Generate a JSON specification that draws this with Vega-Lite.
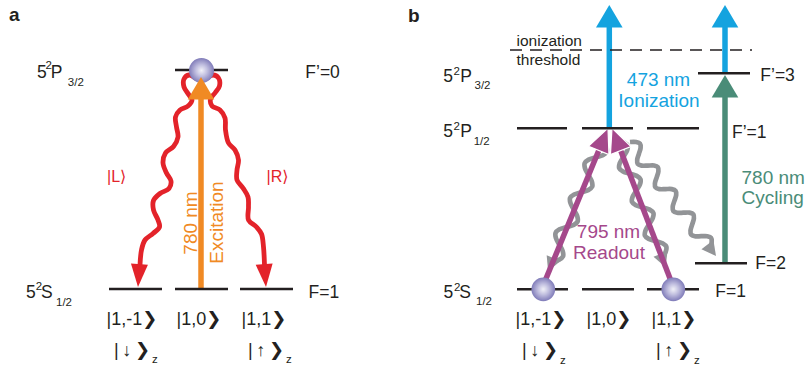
{
  "$schema": "https://vega.github.io/schema/vega-lite/v6.json",
  "width": 807,
  "height": 372,
  "autosize": {"type": "fit", "contains": "padding"},
  "padding": 0,
  "background": "white",
  "config": {
    "view": {"stroke": null},
    "text": {"font": "Liberation Sans, DejaVu Sans, sans-serif"}
  },
  "datasets": {
    "levels": [
      {"x": 175, "x2": 228, "y": 70},
      {"x": 109, "x2": 162, "y": 289},
      {"x": 175, "x2": 228, "y": 289},
      {"x": 240, "x2": 293, "y": 289},
      {"x": 517, "x2": 567, "y": 128.3},
      {"x": 582, "x2": 633, "y": 128.3},
      {"x": 647, "x2": 699, "y": 128.3},
      {"x": 698, "x2": 750, "y": 73.3},
      {"x": 517, "x2": 568, "y": 289.3},
      {"x": 582, "x2": 634, "y": 289.3},
      {"x": 647, "x2": 699, "y": 289.3},
      {"x": 695, "x2": 747, "y": 263.3}
    ],
    "threshold": [{"x": 510, "x2": 752, "y": 50}],
    "shafts": [
      {"beam": "excitation", "x": 201, "y": 289, "x2": 201, "y2": 97},
      {"beam": "ionization", "x": 609.3, "y": 128, "x2": 609.3, "y2": 26},
      {"beam": "ionization", "x": 725, "y": 73.3, "x2": 725, "y2": 26},
      {"beam": "cycling", "x": 725, "y": 263, "x2": 725, "y2": 96},
      {"beam": "readout", "x": 545, "y": 281, "x2": 600.4, "y2": 146.5},
      {"beam": "readout", "x": 671, "y": 281, "x2": 619.2, "y2": 146.7}
    ],
    "big_heads": [
      {"beam": "excitation", "x": 201, "y": 77, "heading": 0},
      {"beam": "ionization", "x": 609.3, "y": 5, "heading": 0},
      {"beam": "ionization", "x": 725, "y": 5, "heading": 0},
      {"beam": "cycling", "x": 725, "y": 75, "heading": 0}
    ],
    "readout_heads": [
      {"x": 608, "y": 128, "heading": 22.4},
      {"x": 612, "y": 128, "heading": 338.9}
    ],
    "emission_waves": [
      {"id": "L", "i": 0, "x": 197, "y": 79},
      {"id": "L", "i": 1, "x": 189, "y": 75},
      {"id": "L", "i": 2, "x": 184, "y": 79},
      {"id": "L", "i": 3, "x": 184, "y": 87},
      {"id": "L", "i": 4, "x": 189, "y": 95},
      {"id": "L", "i": 5, "x": 192, "y": 100},
      {"id": "L", "i": 6, "x": 188, "y": 106},
      {"id": "L", "i": 7, "x": 180, "y": 110},
      {"id": "L", "i": 8, "x": 175.5, "y": 117},
      {"id": "L", "i": 9, "x": 176.5, "y": 127},
      {"id": "L", "i": 10, "x": 178, "y": 137},
      {"id": "L", "i": 11, "x": 173.5, "y": 146.5},
      {"id": "L", "i": 12, "x": 165.5, "y": 153},
      {"id": "L", "i": 13, "x": 163, "y": 163},
      {"id": "L", "i": 14, "x": 166.5, "y": 173},
      {"id": "L", "i": 15, "x": 171, "y": 181},
      {"id": "L", "i": 16, "x": 169, "y": 188.5},
      {"id": "L", "i": 17, "x": 160, "y": 193.5},
      {"id": "L", "i": 18, "x": 153.5, "y": 200.5},
      {"id": "L", "i": 19, "x": 153.5, "y": 210},
      {"id": "L", "i": 20, "x": 158, "y": 220},
      {"id": "L", "i": 21, "x": 159.5, "y": 227},
      {"id": "L", "i": 22, "x": 153, "y": 233.5},
      {"id": "L", "i": 23, "x": 145, "y": 240},
      {"id": "L", "i": 24, "x": 141.5, "y": 250},
      {"id": "L", "i": 25, "x": 140, "y": 265},
      {"id": "R", "i": 0, "x": 206, "y": 79},
      {"id": "R", "i": 1, "x": 213, "y": 75},
      {"id": "R", "i": 2, "x": 218.5, "y": 78},
      {"id": "R", "i": 3, "x": 219.5, "y": 86},
      {"id": "R", "i": 4, "x": 215, "y": 93},
      {"id": "R", "i": 5, "x": 210.5, "y": 99},
      {"id": "R", "i": 6, "x": 212, "y": 106},
      {"id": "R", "i": 7, "x": 220, "y": 110},
      {"id": "R", "i": 8, "x": 225, "y": 118},
      {"id": "R", "i": 9, "x": 225.5, "y": 130},
      {"id": "R", "i": 10, "x": 228.5, "y": 143},
      {"id": "R", "i": 11, "x": 235, "y": 150},
      {"id": "R", "i": 12, "x": 238.5, "y": 160},
      {"id": "R", "i": 13, "x": 237, "y": 170},
      {"id": "R", "i": 14, "x": 237, "y": 180},
      {"id": "R", "i": 15, "x": 243, "y": 188},
      {"id": "R", "i": 16, "x": 248, "y": 197},
      {"id": "R", "i": 17, "x": 248.5, "y": 207},
      {"id": "R", "i": 18, "x": 248.5, "y": 220},
      {"id": "R", "i": 19, "x": 256.5, "y": 227},
      {"id": "R", "i": 20, "x": 261.5, "y": 234},
      {"id": "R", "i": 21, "x": 263.5, "y": 247},
      {"id": "R", "i": 22, "x": 264.5, "y": 265}
    ],
    "emission_heads": [
      {"x": 138, "y": 287, "heading": 183.6},
      {"x": 266, "y": 287, "heading": 175.4}
    ],
    "decay_waves": [
      {"id": "G1", "i": 0, "x": 603, "y": 140},
      {"id": "G1", "i": 1, "x": 606.4, "y": 146.5},
      {"id": "G1", "i": 2, "x": 606.7, "y": 151.8},
      {"id": "G1", "i": 3, "x": 602.8, "y": 155.3},
      {"id": "G1", "i": 4, "x": 595.7, "y": 157.4},
      {"id": "G1", "i": 5, "x": 588.7, "y": 159.6},
      {"id": "G1", "i": 6, "x": 584.7, "y": 163.1},
      {"id": "G1", "i": 7, "x": 585, "y": 168.3},
      {"id": "G1", "i": 8, "x": 588.4, "y": 174.9},
      {"id": "G1", "i": 9, "x": 591.8, "y": 181.4},
      {"id": "G1", "i": 10, "x": 592.2, "y": 186.7},
      {"id": "G1", "i": 11, "x": 588.2, "y": 190.1},
      {"id": "G1", "i": 12, "x": 581.2, "y": 192.3},
      {"id": "G1", "i": 13, "x": 574.1, "y": 194.5},
      {"id": "G1", "i": 14, "x": 570.1, "y": 197.9},
      {"id": "G1", "i": 15, "x": 570.5, "y": 203.2},
      {"id": "G1", "i": 16, "x": 573.9, "y": 209.7},
      {"id": "G1", "i": 17, "x": 577.3, "y": 216.3},
      {"id": "G1", "i": 18, "x": 577.6, "y": 221.5},
      {"id": "G1", "i": 19, "x": 573.6, "y": 225},
      {"id": "G1", "i": 20, "x": 566.6, "y": 227.1},
      {"id": "G1", "i": 21, "x": 559.5, "y": 229.3},
      {"id": "G1", "i": 22, "x": 555.6, "y": 232.8},
      {"id": "G1", "i": 23, "x": 555.9, "y": 238},
      {"id": "G1", "i": 24, "x": 559.3, "y": 244.6},
      {"id": "G1", "i": 25, "x": 562.7, "y": 251.1},
      {"id": "G1", "i": 26, "x": 563, "y": 256.4},
      {"id": "G1", "i": 27, "x": 559.1, "y": 259.8},
      {"id": "G1", "i": 28, "x": 552, "y": 262},
      {"id": "G1", "i": 29, "x": 550.5, "y": 265.5},
      {"id": "G2", "i": 0, "x": 617, "y": 140},
      {"id": "G2", "i": 1, "x": 623.9, "y": 142.2},
      {"id": "G2", "i": 2, "x": 627.7, "y": 145.6},
      {"id": "G2", "i": 3, "x": 627.1, "y": 150.6},
      {"id": "G2", "i": 4, "x": 623.4, "y": 156.9},
      {"id": "G2", "i": 5, "x": 619.8, "y": 163.1},
      {"id": "G2", "i": 6, "x": 619.2, "y": 168.1},
      {"id": "G2", "i": 7, "x": 623, "y": 171.5},
      {"id": "G2", "i": 8, "x": 629.9, "y": 173.7},
      {"id": "G2", "i": 9, "x": 636.7, "y": 175.9},
      {"id": "G2", "i": 10, "x": 640.5, "y": 179.3},
      {"id": "G2", "i": 11, "x": 640, "y": 184.3},
      {"id": "G2", "i": 12, "x": 636.3, "y": 190.6},
      {"id": "G2", "i": 13, "x": 632.6, "y": 196.8},
      {"id": "G2", "i": 14, "x": 632, "y": 201.9},
      {"id": "G2", "i": 15, "x": 635.8, "y": 205.2},
      {"id": "G2", "i": 16, "x": 642.7, "y": 207.4},
      {"id": "G2", "i": 17, "x": 649.6, "y": 209.6},
      {"id": "G2", "i": 18, "x": 653.4, "y": 213},
      {"id": "G2", "i": 19, "x": 652.8, "y": 218.1},
      {"id": "G2", "i": 20, "x": 649.1, "y": 224.3},
      {"id": "G2", "i": 21, "x": 645.5, "y": 230.5},
      {"id": "G2", "i": 22, "x": 644.9, "y": 235.6},
      {"id": "G2", "i": 23, "x": 648.7, "y": 238.9},
      {"id": "G2", "i": 24, "x": 655.6, "y": 241.1},
      {"id": "G2", "i": 25, "x": 662.5, "y": 243.3},
      {"id": "G2", "i": 26, "x": 666.3, "y": 246.7},
      {"id": "G2", "i": 27, "x": 665.7, "y": 251.8},
      {"id": "G2", "i": 28, "x": 662, "y": 258},
      {"id": "G2", "i": 29, "x": 663, "y": 261},
      {"id": "G3", "i": 0, "x": 630, "y": 142},
      {"id": "G3", "i": 1, "x": 636.2, "y": 142},
      {"id": "G3", "i": 2, "x": 640, "y": 143.7},
      {"id": "G3", "i": 3, "x": 640.6, "y": 147.9},
      {"id": "G3", "i": 4, "x": 638.9, "y": 153.8},
      {"id": "G3", "i": 5, "x": 637.2, "y": 159.7},
      {"id": "G3", "i": 6, "x": 637.7, "y": 163.9},
      {"id": "G3", "i": 7, "x": 641.6, "y": 165.6},
      {"id": "G3", "i": 8, "x": 647.8, "y": 165.6},
      {"id": "G3", "i": 9, "x": 654, "y": 165.5},
      {"id": "G3", "i": 10, "x": 657.8, "y": 167.2},
      {"id": "G3", "i": 11, "x": 658.4, "y": 171.4},
      {"id": "G3", "i": 12, "x": 656.7, "y": 177.3},
      {"id": "G3", "i": 13, "x": 654.9, "y": 183.3},
      {"id": "G3", "i": 14, "x": 655.5, "y": 187.4},
      {"id": "G3", "i": 15, "x": 659.4, "y": 189.1},
      {"id": "G3", "i": 16, "x": 665.6, "y": 189.1},
      {"id": "G3", "i": 17, "x": 671.7, "y": 189.1},
      {"id": "G3", "i": 18, "x": 675.6, "y": 190.8},
      {"id": "G3", "i": 19, "x": 676.2, "y": 195},
      {"id": "G3", "i": 20, "x": 674.4, "y": 200.9},
      {"id": "G3", "i": 21, "x": 672.7, "y": 206.8},
      {"id": "G3", "i": 22, "x": 673.3, "y": 211},
      {"id": "G3", "i": 23, "x": 677.2, "y": 212.7},
      {"id": "G3", "i": 24, "x": 683.3, "y": 212.7},
      {"id": "G3", "i": 25, "x": 689.5, "y": 212.6},
      {"id": "G3", "i": 26, "x": 693.4, "y": 214.3},
      {"id": "G3", "i": 27, "x": 693.9, "y": 218.5},
      {"id": "G3", "i": 28, "x": 692.2, "y": 224.4},
      {"id": "G3", "i": 29, "x": 690.5, "y": 230.4},
      {"id": "G3", "i": 30, "x": 691.1, "y": 234.5},
      {"id": "G3", "i": 31, "x": 694.9, "y": 236.3},
      {"id": "G3", "i": 32, "x": 701.1, "y": 236.2},
      {"id": "G3", "i": 33, "x": 707.3, "y": 236.2},
      {"id": "G3", "i": 34, "x": 711.1, "y": 237.9},
      {"id": "G3", "i": 35, "x": 711.7, "y": 242},
      {"id": "G3", "i": 36, "x": 710.5, "y": 247.5}
    ],
    "decay_heads": [
      {"x": 548.1, "y": 271.2, "heading": 202.7},
      {"x": 665.6, "y": 267.3, "heading": 159.1},
      {"x": 716, "y": 256, "heading": 143}
    ],
    "atoms_a": [{"x": 201.5, "y": 70.5}],
    "atoms_b": [
      {"x": 543.3, "y": 289.3},
      {"x": 673.3, "y": 289.3}
    ],
    "panel_letters": [
      {"t": "a", "x": 9, "y": 21},
      {"t": "b", "x": 408, "y": 21.5}
    ],
    "level_names": [
      {"t": "5", "x": 36.9, "y": 78},
      {"t": "P", "x": 50.8, "y": 78},
      {"t": "F’=0", "x": 305.3, "y": 78.3},
      {"t": "5", "x": 25.9, "y": 298},
      {"t": "S", "x": 41, "y": 298},
      {"t": "F=1", "x": 308.6, "y": 297.7},
      {"t": "5", "x": 443.2, "y": 81.7},
      {"t": "P", "x": 460.3, "y": 81.7},
      {"t": "5", "x": 443.2, "y": 136.7},
      {"t": "P", "x": 460.3, "y": 136.7},
      {"t": "5", "x": 443.5, "y": 297.7},
      {"t": "S", "x": 459.3, "y": 297.7},
      {"t": "F’=3", "x": 760.3, "y": 81},
      {"t": "F’=1", "x": 732, "y": 138.3},
      {"t": "F=2", "x": 755.3, "y": 269.3},
      {"t": "F=1", "x": 715.3, "y": 296.7}
    ],
    "scripts": [
      {"t": "2", "x": 45.6, "y": 69},
      {"t": "3/2", "x": 67.8, "y": 86},
      {"t": "2", "x": 35.8, "y": 289.5},
      {"t": "1/2", "x": 56, "y": 305.5},
      {"t": "2", "x": 453.5, "y": 75},
      {"t": "3/2", "x": 474.5, "y": 89},
      {"t": "2", "x": 453.5, "y": 130},
      {"t": "1/2", "x": 473.7, "y": 144.5},
      {"t": "2", "x": 454, "y": 290.5},
      {"t": "1/2", "x": 476, "y": 305.3},
      {"t": "z", "x": 152, "y": 363},
      {"t": "z", "x": 286, "y": 363},
      {"t": "z", "x": 560, "y": 364},
      {"t": "z", "x": 694, "y": 364}
    ],
    "kets": [
      {"t": "|1,-1❯", "x": 106.5, "y": 325},
      {"t": "|1,0❯", "x": 176.5, "y": 325},
      {"t": "|1,1❯", "x": 241.5, "y": 325},
      {"t": "|\u2009↓\u2009❯", "x": 114, "y": 356},
      {"t": "|\u2009↑\u2009❯", "x": 248, "y": 356},
      {"t": "|1,-1❯", "x": 515.5, "y": 325},
      {"t": "|1,0❯", "x": 586.5, "y": 325},
      {"t": "|1,1❯", "x": 651.5, "y": 325},
      {"t": "|\u2009↓\u2009❯", "x": 522, "y": 356},
      {"t": "|\u2009↑\u2009❯", "x": 656, "y": 356}
    ],
    "threshold_label": [
      {"t": "ionization", "x": 516.5, "y": 45.5},
      {"t": "threshold", "x": 516.5, "y": 65}
    ],
    "beam_labels_centered": [
      {"t": "473 nm", "x": 658.5, "y": 86, "beam": "ionization"},
      {"t": "Ionization", "x": 659, "y": 106.5, "beam": "ionization"},
      {"t": "795 nm", "x": 608.5, "y": 237.5, "beam": "readout"},
      {"t": "Readout", "x": 609, "y": 259, "beam": "readout"}
    ],
    "beam_labels_left": [
      {"t": "780 nm", "x": 741.5, "y": 184, "beam": "cycling"},
      {"t": "Cycling", "x": 741.5, "y": 204, "beam": "cycling"}
    ],
    "beam_labels_vertical": [
      {"t": "780 nm", "x": 196.5, "y": 223, "beam": "excitation"},
      {"t": "Excitation", "x": 223, "y": 222.5, "beam": "excitation"}
    ],
    "polarisation_labels": [
      {"t": "|L⟩", "x": 107, "y": 181.5, "beam": "emission"},
      {"t": "|R⟩", "x": 266.5, "y": 181.5, "beam": "emission"}
    ]
  },
  "encoding": {
    "x": {"field": "x", "type": "quantitative", "scale": {"domain": [0, 807], "nice": false, "zero": false}, "axis": null},
    "y": {"field": "y", "type": "quantitative", "scale": {"domain": [0, 372], "nice": false, "zero": false, "reverse": true}, "axis": null}
  },
  "layer": [
    {
      "data": {"name": "decay_waves"},
      "mark": {"type": "line", "color": "#929497", "strokeWidth": 4.7, "interpolate": "catmull-rom"},
      "encoding": {"detail": {"field": "id"}, "order": {"field": "i", "type": "quantitative"}}
    },
    {
      "data": {"name": "decay_heads"},
      "mark": {"type": "point", "shape": "M0,0L-1,1.9L1,1.9Z", "size": 225, "filled": true, "opacity": 1, "color": "#929497"},
      "encoding": {"angle": {"field": "heading", "type": "quantitative", "scale": {"domain": [0, 360], "range": [0, 360]}}}
    },
    {
      "data": {"name": "emission_waves"},
      "mark": {"type": "line", "color": "#E3232A", "strokeWidth": 4.8, "interpolate": "catmull-rom"},
      "encoding": {"detail": {"field": "id"}, "order": {"field": "i", "type": "quantitative"}}
    },
    {
      "data": {"name": "emission_heads"},
      "mark": {"type": "point", "shape": "M0,0L-1,2.7L1,2.7Z", "size": 289, "filled": true, "opacity": 1, "color": "#E3232A"},
      "encoding": {"angle": {"field": "heading", "type": "quantitative", "scale": {"domain": [0, 360], "range": [0, 360]}}}
    },
    {
      "data": {"name": "shafts"},
      "mark": {"type": "rule", "strokeWidth": 5.5},
      "encoding": {
        "x2": {"field": "x2"},
        "y2": {"field": "y2"},
        "color": {"field": "beam", "type": "nominal", "legend": null,
          "scale": {"domain": ["excitation", "emission", "ionization", "cycling", "readout"], "range": ["#F08A24", "#E3232A", "#14A3DF", "#4A8C78", "#A5488B"]}}
      }
    },
    {
      "data": {"name": "readout_heads"},
      "mark": {"type": "point", "shape": "M0,0L-1,2.2L1,2.2Z", "size": 484, "filled": true, "opacity": 1, "color": "#A5488B", "stroke": "white", "strokeWidth": 1.2},
      "encoding": {"angle": {"field": "heading", "type": "quantitative", "scale": {"domain": [0, 360], "range": [0, 360]}}}
    },
    {
      "data": {"name": "levels"},
      "mark": {"type": "rule", "color": "#231F20", "strokeWidth": 2.6},
      "encoding": {"x2": {"field": "x2"}}
    },
    {
      "data": {"name": "atoms_a"},
      "mark": {"type": "point", "shape": "circle", "size": 625, "filled": true, "opacity": 1,
        "fill": {"gradient": "radial", "stops": [{"offset": 0, "color": "#F2F2F8"}, {"offset": 0.45, "color": "#C2C0E0"}, {"offset": 1, "color": "#807CB9"}]}}
    },
    {
      "data": {"name": "atoms_b"},
      "mark": {"type": "point", "shape": "circle", "size": 560, "filled": true, "opacity": 1,
        "fill": {"gradient": "radial", "stops": [{"offset": 0, "color": "#F2F2F8"}, {"offset": 0.45, "color": "#C2C0E0"}, {"offset": 1, "color": "#807CB9"}]}}
    },
    {
      "data": {"name": "big_heads"},
      "mark": {"type": "point", "shape": "M0,0L-1,1.7L1,1.7Z", "size": 708, "filled": true, "opacity": 1},
      "encoding": {
        "angle": {"field": "heading", "type": "quantitative", "scale": {"domain": [0, 360], "range": [0, 360]}},
        "color": {"field": "beam", "type": "nominal", "legend": null,
          "scale": {"domain": ["excitation", "emission", "ionization", "cycling", "readout"], "range": ["#F08A24", "#E3232A", "#14A3DF", "#4A8C78", "#A5488B"]}}
      }
    },
    {
      "data": {"name": "threshold"},
      "mark": {"type": "rule", "color": "#231F20", "strokeWidth": 1.3, "strokeDash": [12, 8]},
      "encoding": {"x2": {"field": "x2"}}
    },
    {
      "data": {"name": "panel_letters"},
      "mark": {"type": "text", "align": "left", "baseline": "alphabetic", "fontSize": 19, "fontWeight": "bold", "color": "#231F20"},
      "encoding": {"text": {"field": "t"}}
    },
    {
      "data": {"name": "level_names"},
      "mark": {"type": "text", "align": "left", "baseline": "alphabetic", "fontSize": 17.5, "color": "#231F20"},
      "encoding": {"text": {"field": "t"}}
    },
    {
      "data": {"name": "scripts"},
      "mark": {"type": "text", "align": "left", "baseline": "alphabetic", "fontSize": 11.5, "color": "#231F20"},
      "encoding": {"text": {"field": "t"}}
    },
    {
      "data": {"name": "kets"},
      "mark": {"type": "text", "align": "left", "baseline": "alphabetic", "fontSize": 18, "color": "#231F20"},
      "encoding": {"text": {"field": "t"}}
    },
    {
      "data": {"name": "threshold_label"},
      "mark": {"type": "text", "align": "left", "baseline": "alphabetic", "fontSize": 15.5, "color": "#231F20"},
      "encoding": {"text": {"field": "t"}}
    },
    {
      "data": {"name": "beam_labels_centered"},
      "mark": {"type": "text", "align": "center", "baseline": "alphabetic", "fontSize": 19},
      "encoding": {
        "text": {"field": "t"},
        "color": {"field": "beam", "type": "nominal", "legend": null,
          "scale": {"domain": ["excitation", "emission", "ionization", "cycling", "readout"], "range": ["#F08A24", "#E3232A", "#14A3DF", "#4A8C78", "#A5488B"]}}
      }
    },
    {
      "data": {"name": "beam_labels_left"},
      "mark": {"type": "text", "align": "left", "baseline": "alphabetic", "fontSize": 19},
      "encoding": {
        "text": {"field": "t"},
        "color": {"field": "beam", "type": "nominal", "legend": null,
          "scale": {"domain": ["excitation", "emission", "ionization", "cycling", "readout"], "range": ["#F08A24", "#E3232A", "#14A3DF", "#4A8C78", "#A5488B"]}}
      }
    },
    {
      "data": {"name": "beam_labels_vertical"},
      "mark": {"type": "text", "align": "center", "baseline": "alphabetic", "fontSize": 19, "angle": 270},
      "encoding": {
        "text": {"field": "t"},
        "color": {"field": "beam", "type": "nominal", "legend": null,
          "scale": {"domain": ["excitation", "emission", "ionization", "cycling", "readout"], "range": ["#F08A24", "#E3232A", "#14A3DF", "#4A8C78", "#A5488B"]}}
      }
    },
    {
      "data": {"name": "polarisation_labels"},
      "mark": {"type": "text", "align": "left", "baseline": "alphabetic", "fontSize": 16},
      "encoding": {
        "text": {"field": "t"},
        "color": {"field": "beam", "type": "nominal", "legend": null,
          "scale": {"domain": ["excitation", "emission", "ionization", "cycling", "readout"], "range": ["#F08A24", "#E3232A", "#14A3DF", "#4A8C78", "#A5488B"]}}
      }
    }
  ]
}
